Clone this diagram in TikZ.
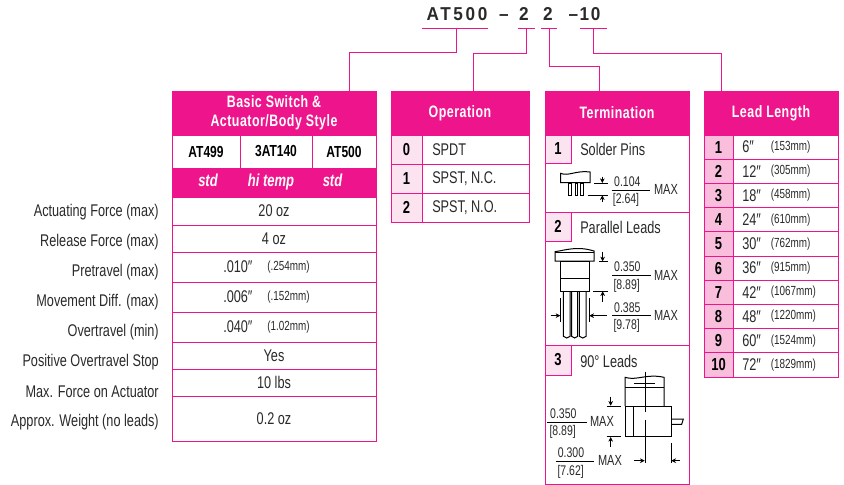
\documentclass[tikz,border=0pt]{standalone}
\usepackage{fontspec}
\setmainfont[FakeStretch=0.75]{Liberation Sans}
\newfontfamily\titlefont[FakeStretch=0.92]{Liberation Sans}
\definecolor{mag}{HTML}{EE148C}
\definecolor{lite}{HTML}{FBE3F0}
\definecolor{litetwo}{HTML}{F9BEDC}
\definecolor{ink}{HTML}{2A2A2A}
\newcommand{\cell}[7][]{\node[cellbase,#1,minimum width={(#4-#2)*0.75pt},minimum height={(#5-#3)*0.75pt}] (#6) at ({(#2+#4)/2},{(#3+#5)/2}) {#7};}
\tikzset{
  cellbase/.style={draw=mag,line width=0.7pt,inner sep=0pt,outer sep=0pt,text=ink,font=\fontsize{12.7}{14}\selectfont,align=center},
  head/.style={fill=mag,text=white,font=\fontsize{12.4}{14.2}\selectfont\bfseries\addfontfeature{LetterSpace=3}},
  subtext/.style={anchor=base,inner sep=0pt,text=white,font=\fontsize{13}{15}\selectfont\bfseries\itshape},
  plain/.style={fill=white},
  numa/.style={fill=lite,font=\fontsize{13}{15}\selectfont\bfseries,text=black},
  numb/.style={fill=litetwo,font=\fontsize{13}{15}\selectfont\bfseries,text=black},
  model/.style={fill=white,font=\fontsize{12}{14}\selectfont\bfseries,text=black},
  rowlabel/.style={anchor=east,inner sep=0pt,text=ink,font=\fontsize{12.7}{14}\selectfont},
  celltext/.style={anchor=west,inner sep=0pt,text=ink,font=\fontsize{12.7}{14}\selectfont},
  smalltext/.style={anchor=west,inner sep=0pt,text=ink,font=\fontsize{9.9}{11}\selectfont},
  title/.style={anchor=base,inner sep=0pt,text=ink,font=\fontsize{14}{16}\titlefont\bfseries},
  link/.style={draw=mag,line width=0.7pt},
  under/.style={draw=mag,line width=0.7pt},
  dim/.style={draw=black,line width=0.5pt},
  dimarrow/.style={draw=black,line width=0.5pt,-{Stealth[length=3.5pt,width=3.5pt]}},
  part/.style={draw=black,line width=0.75pt},
  dimtext/.style={inner sep=0pt,text=ink,font=\fontsize{10.5}{12}\selectfont},
  maxtext/.style={inner sep=0pt,text=ink,font=\fontsize{11}{12}\selectfont},
}
\usetikzlibrary{arrows.meta}
\begin{document}
\begin{tikzpicture}[x=0.75pt,y=-0.75pt]
\useasboundingbox (0,0) rectangle (844,485);
% part number
\node[title] (pa) at (457,21) {\addfontfeature{LetterSpace=14}AT500};
\node[title] (pb) at (504,21) {–};
\node[title] (pc) at (524,21) {2};
\node[title] (pd) at (548,21) {2};
\node[title] (pe) at (584.5,21) {\addfontfeature{LetterSpace=8}–10};
% table 1
\cell[head]{172}{91}{376}{135}{basic}{Basic Switch \&\\Actuator/Body Style}
\cell[model]{172}{135}{240}{168}{ma}{AT499}
\cell[model]{240}{135}{312}{168}{mb}{3AT140}
\cell[model]{312}{135}{376}{168}{mc}{AT500}
\cell[fill=mag]{172}{168}{376}{197}{subs}{}
\node[subtext] (sa) at (208,186.5) {std};
\node[subtext] (sb) at (271,186.5) {hi temp};
\node[subtext] (sc) at (332.5,186.5) {std};
\cell[plain]{172}{197}{376}{225}{ra}{20 oz}
\cell[plain]{172}{225}{376}{252}{rb}{4 oz}
\cell[plain]{172}{252}{376}{282}{rc}{}
\cell[plain]{172}{282}{376}{312}{rd}{}
\cell[plain]{172}{312}{376}{342}{re}{}
\cell[plain]{172}{342}{376}{369}{rf}{Yes}
\cell[plain]{172}{369}{376}{396}{rg}{10 lbs}
\cell[plain]{172}{396}{376}{441}{rh}{0.2 oz}
\node[celltext] (ca) at (223,267) {.010″};
\node[smalltext] (cb) at (267,267.5) {(.254mm)};
\node[celltext] (cc) at (223,297) {.006″};
\node[smalltext] (cd) at (267,297.5) {(.152mm)};
\node[celltext] (ce) at (223,327) {.040″};
\node[smalltext] (cf) at (267,327.5) {(1.02mm)};
\node[rowlabel] (la) at (159,212) {Actuating Force (max)};
\node[rowlabel] (lb) at (159,242) {Release Force (max)};
\node[rowlabel] (lc) at (159,272) {Pretravel (max)};
\node[rowlabel] (ld) at (159,302) {Movement Diff. (max)};
\node[rowlabel] (le) at (159,332) {Overtravel (min)};
\node[rowlabel] (lf) at (159,362) {Positive Overtravel Stop};
\node[rowlabel] (lg) at (159,392) {Max. Force on Actuator};
\node[rowlabel] (lh) at (159,422) {Approx. Weight (no leads)};
% table 2
\cell[head]{391}{91}{529}{135}{oper}{Operation}
\cell[numa]{391}{135}{422}{164}{oa}{0}
\cell[plain]{422}{135}{529}{164}{oat}{}
\cell[numa]{391}{164}{422}{193}{ob}{1}
\cell[plain]{422}{164}{529}{193}{obt}{}
\cell[numa]{391}{193}{422}{222}{oc}{2}
\cell[plain]{422}{193}{529}{222}{oct}{}
\node[celltext] (oa1) at (432,149.5) {SPDT};
\node[celltext] (ob1) at (432,178.5) {SPST, N.C.};
\node[celltext] (oc1) at (432,207.5) {SPST, N.O.};
% table 3
\cell[head]{545}{91}{689}{135}{term}{Termination}
\cell[plain]{545}{135}{689}{212}{ta}{}
\cell[plain]{545}{212}{689}{345}{tb}{}
\cell[plain]{545}{345}{689}{484}{tc}{}
\cell[numa]{545}{135}{571}{163}{na}{1}
\cell[numa]{545}{212}{571}{241}{nb}{2}
\cell[numa]{545}{345}{571}{375}{nc}{3}
\node[celltext] (ta1) at (580,149.5) {Solder Pins};
\node[celltext] (tb1) at (580,227.5) {Parallel Leads};
\node[celltext] (tc1) at (580,361) {90° Leads};
% solder pins drawing
\begin{scope}[shift={(540,130)},x=0.25pt,y=-0.25pt]
\draw[part] (62,158) -- (62,130) .. controls (85,140) and (110,120) .. (150,126) -- (150,158) -- cycle;
\draw[part,line width=.6pt] (85,160) rectangle (93,195) (105,160) rectangle (112,195) (122,160) rectangle (130,195);
\draw[dim] (163,160) -- (203,160) (143,195) -- (203,195);
\draw[dimarrow] (187,140) -- (187,159);
\draw[dimarrow] (187,215) -- (187,196);
\draw[dim] (215,180) -- (330,180);
\node[dimtext] at (262,155) {0.104};
\node[dimtext] at (258,210) {[2.64]};
\node[maxtext] at (378,178) {MAX};
\end{scope}
% parallel leads drawing
\begin{scope}[shift={(540,225)},x=0.25pt,y=-0.25pt]
\draw[part] (45,108) -- (45,80) .. controls (75,76) and (110,62) .. (162,78) -- (162,108) -- cycle;
\draw[part,line width=.6pt] (45,82) -- (162,82);
\draw[part] (62,108) rectangle (148,198) (62,160) -- (148,160);
\draw[part] (70,198) -- (70,334) -- (80,339) -- (90,334) -- (90,198);
\draw[part] (95,198) -- (95,334) -- (104,339) -- (113,334) -- (113,198);
\draw[part] (118,198) -- (118,334) -- (128,339) -- (138,334) -- (138,198);
\draw[dim] (178,110) -- (203,110) (160,198) -- (203,198);
\draw[dimarrow] (188,80) -- (188,109);
\draw[dimarrow] (188,230) -- (188,199);
\draw[dim] (217,152) -- (332,152) (217,272) -- (332,272);
\draw[dim] (62,220) -- (62,290) (147,220) -- (147,290);
\draw[dimarrow] (32,272) -- (61,272);
\draw[dimarrow] (200,272) -- (148,272);
\node[dimtext] at (262,125) {0.350};
\node[dimtext] at (260,183) {[8.89]};
\node[maxtext] at (378,150) {MAX};
\node[dimtext] at (262,248) {0.385};
\node[dimtext] at (260,303) {[9.78]};
\node[maxtext] at (378,270) {MAX};
\end{scope}
% 90 degree leads drawing
\begin{scope}[shift={(540,345)},x=0.25pt,y=-0.25pt]
\draw[part] (255,183) -- (255,97) .. controls (290,108) and (320,85) .. (372,97) -- (372,183);
\draw[part] (255,128) -- (372,128);
\draw[dim] (282,115) -- (345,115);
\draw[part] (255,183) rectangle (393,275) (280,183) -- (280,275);
\draw[part] (393,222) -- (430,222) -- (425,238) -- (393,238);
\draw[dim] (315,80) -- (315,200) (315,225) -- (315,355);
\draw[dim] (200,183) -- (243,183) (200,275) -- (243,275);
\draw[dimarrow] (212,155) -- (212,182);
\draw[dimarrow] (212,305) -- (212,276);
\draw[dim] (22,232) -- (140,232) (47,348) -- (163,348);
\draw[part] (393,295) -- (393,355);
\draw[dimarrow] (283,347) -- (314,347);
\draw[dimarrow] (420,347) -- (394,347);
\node[dimtext] at (70,205) {0.350};
\node[dimtext] at (68,262) {[8.89]};
\node[maxtext] at (186,230) {MAX};
\node[dimtext] at (93,323) {0.300};
\node[dimtext] at (92,380) {[7.62]};
\node[maxtext] at (210,347) {MAX};
\end{scope}
% table 4
\cell[head]{704}{91}{838}{135}{lead}{Lead Length}
\foreach \n/\a/\b [count=\i from 0] in {1/6/153,2/12/305,3/18/458,4/24/610,5/30/762,6/36/915,7/42/1067,8/48/1220,9/60/1524,10/72/1829}{
  \pgfmathsetmacro{\ya}{135+\i*24.2}
  \pgfmathsetmacro{\yb}{135+(\i+1)*24.2}
  \pgfmathsetmacro{\yc}{135+(\i+.5)*24.2}
  \cell[numb]{704}{\ya}{733}{\yb}{ln\n}{\n}
  \cell[plain]{733}{\ya}{838}{\yb}{lt\n}{}
  \node[celltext] (va\n) at (742,\yc) {\a″};
  \node[smalltext] (vb\n) at (770.5,\yc) {(\b mm)};
}
% underlines and connectors
\coordinate (ua) at (456,28);
\coordinate (ub) at (526,28);
\coordinate (uc) at (549,28);
\coordinate (ud) at (593,28);
\draw[under] (422,28) -- (488,28) (518,28) -- (535,28) (541,28) -- (557,28) (580,28) -- (607,28);
\draw[link] (ua) -- (456,52) -- (349,52) -- (basic.north -| 349,0);
\draw[link] (ub) -- (526,53) -- (473,53) -- (oper.north -| 473,0);
\draw[link] (uc) -- (549,66) -- (599,66) -- (term.north -| 599,0);
\draw[link] (ud) -- (593,53) -- (721,53) -- (lead.north -| 721,0);
\end{tikzpicture}
\end{document}
